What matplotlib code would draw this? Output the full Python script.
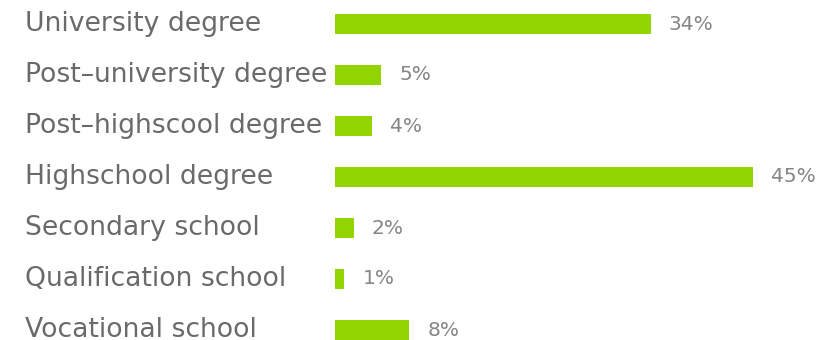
import matplotlib
matplotlib.use("Agg")
import matplotlib.pyplot as plt
import matplotlib.transforms as mtransforms

categories = ["University degree", "Post\u2013university degree", "Post\u2013highscool degree",
              "Highschool degree", "Secondary school", "Qualification school", "Vocational school"]
values = [34, 5, 4, 45, 2, 1, 8]

green = "#92d400"
label_color = "#6a6a6a"
value_color = "#858585"

fig = plt.figure(figsize=(8.23, 3.40), dpi=100)
ax = fig.add_axes([335 / 823, 0, 488 / 823, 1])

y = list(range(len(categories)))
ax.barh(y, values, height=0.4, color=green)
ax.set_xlim(0, 488 / 9.29)
ax.set_ylim(6 + 10 / 51, -24 / 51)
ax.axis("off")

trans = mtransforms.blended_transform_factory(fig.transFigure, ax.transData)
for yi, cat, v in zip(y, categories, values):
    ax.text(25 / 823, yi, cat, transform=trans, ha="left", va="center",
            fontsize=19.2, color=label_color, family="DejaVu Sans")
    ax.annotate(f"{v}%", (v, yi), xytext=(13, 0), textcoords="offset points",
                ha="left", va="center", fontsize=14.5, color=value_color,
                family="DejaVu Sans")

fig.savefig("out.png", dpi=100)
